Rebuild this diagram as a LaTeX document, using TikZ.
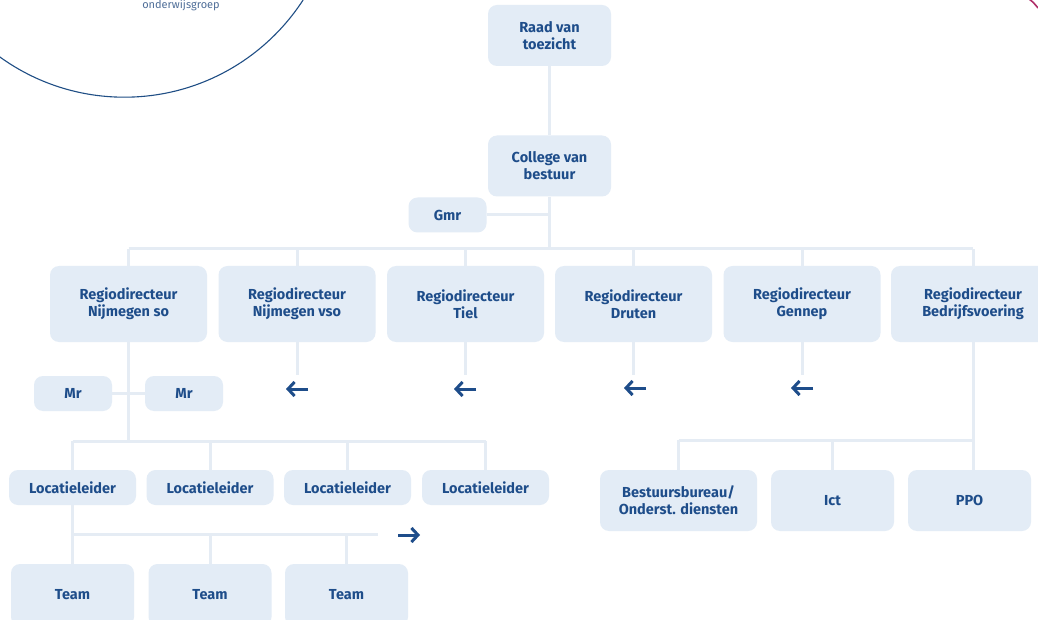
\documentclass[tikz,border=0pt]{standalone}
\usepackage{fontspec}
\setmainfont{Fira Sans}
\usetikzlibrary{arrows.meta,calc}
\definecolor{boxfill}{HTML}{E3ECF6}
\definecolor{txt}{HTML}{1E4D8A}
\definecolor{connc}{HTML}{E5ECF4}
\definecolor{logoc}{HTML}{1F4E85}
\definecolor{logotxt}{HTML}{4F6E98}
\definecolor{pinkc}{HTML}{B0306A}
\begin{document}
\begin{tikzpicture}[x=1pt,y=-1pt,
  box/.style={fill=boxfill, rounded corners=9pt, inner sep=0pt, align=center,
    font=\bfseries\fontsize{14.5}{17}\selectfont, text=txt},
  big/.style={box, minimum width=157pt, minimum height=76pt},
  mid/.style={box, minimum width=123pt, minimum height=61pt},
  small/.style={box, minimum width=78pt, minimum height=35pt},
  loc/.style={box, minimum width=127pt, minimum height=35pt},
  conn/.style={draw=connc, line width=3pt},
  arr/.style={draw=txt, line width=3pt, -{Straight Barb[length=6.5pt,width=14pt]}}]
\useasboundingbox (0,0) rectangle (1038,620);
\fill[white] (0,0) rectangle (1038,620);

% logo remnants
\draw[logoc, line width=1.1pt] (124.4,-115.6) circle[radius=212.8pt];
\node[text=logotxt, font=\fontsize{11}{13}\selectfont, inner sep=0pt, anchor=base] (logotext) at (181,8.5) {onderwijsgroep};
\draw[pinkc, line width=1.6pt] (1029,-1) .. controls (1033,2) .. (1038,8);

% top
\node[mid] (rvt) at (549.5,35.5) {Raad van\\toezicht};
\node[mid] (cvb) at (549.5,166) {College van\\bestuur};
\node[small] (gmr) at (447.5,215) {Gmr};
\coordinate (hub) at (549.5,249);

% regio row
\node[big] (rd1) at (128.5,304) {Regiodirecteur\\Nijmegen so};
\node[big] (rd2) at (297,304) {Regiodirecteur\\Nijmegen vso};
\node[big] (rd3) at (465.5,304) {Regiodirecteur\\Tiel};
\node[big] (rd4) at (633.5,304) {Regiodirecteur\\Druten};
\node[big] (rd5) at (802,304) {Regiodirecteur\\Gennep};
\node[big, minimum width=164pt] (rd6) at (973,304) {Regiodirecteur\\Bedrijfsvoering};

% arrows below regio
\coordinate (e2) at (297,375);
\coordinate (e3) at (465.5,375);
\coordinate (e4) at (633.5,375);
\coordinate (e5) at (802,375);
\coordinate (a2r) at (308,389); \coordinate (a2l) at (286,389);
\coordinate (a3r) at (476,389); \coordinate (a3l) at (454,389);
\coordinate (a4r) at (646,388); \coordinate (a4l) at (624,388);
\coordinate (a5r) at (813,388); \coordinate (a5l) at (791,388);

% Mr
\node[small] (mr1) at (73,393.5) {Mr};
\node[small] (mr2) at (184,393.5) {Mr};
\coordinate (lj) at (128.5,441);

% Locatieleiders
\node[loc] (ll1) at (72.5,487.5) {Locatieleider};
\node[loc] (ll2) at (210,487.5) {Locatieleider};
\node[loc] (ll3) at (347.5,487.5) {Locatieleider};
\node[loc] (ll4) at (485.5,487.5) {Locatieleider};
\coordinate (tj) at (72.5,534);
\coordinate (tend) at (378,534);
\coordinate (trr) at (420,535); \coordinate (trl) at (398,535);

% Teams
\node[box, minimum width=123pt, minimum height=62pt] (t1) at (72.5,595) {Team};
\node[box, minimum width=123pt, minimum height=62pt] (t2) at (210,595) {Team};
\node[box, minimum width=123pt, minimum height=62pt] (t3) at (346.5,595) {Team};

% right group
\node[box, minimum width=157pt, minimum height=61pt] (bb) at (678.5,500.5) {Bestuursbureau/\\Onderst. diensten};
\node[mid] (ict) at (832.5,500.5) {Ict};
\node[mid] (ppo) at (969.5,500.5) {PPO};
\coordinate (rj) at (972,440);

% connectors
\draw[conn] (rvt.south) -- (cvb.north);
\draw[conn] (cvb.south) -- (hub);
\draw[conn] (gmr.east) -- (gmr.east -| hub);
\draw[conn] (rd1.north |- hub) -- (rd6.north |- hub);
\foreach \n in {rd1,rd2,rd3,rd4,rd5,rd6} \draw[conn] (\n.north) -- (\n.north |- hub);
\draw[conn] (rd2.south) -- (e2);
\draw[conn] (rd3.south) -- (e3);
\draw[conn] (rd4.south) -- (e4);
\draw[conn] (rd5.south) -- (e5);
\draw[arr] (a2r) -- (a2l);
\draw[arr] (a3r) -- (a3l);
\draw[arr] (a4r) -- (a4l);
\draw[arr] (a5r) -- (a5l);
\draw[conn] (mr1.east) -- (mr2.west);
\draw[conn] (rd1.south) -- (lj);
\draw[conn] (ll1.north |- lj) -- (ll4.north |- lj);
\foreach \n in {ll1,ll2,ll3,ll4} \draw[conn] (\n.north) -- (\n.north |- lj);
\draw[conn] (ll1.south) -- (tj);
\draw[conn] (tj) -- (tend);
\foreach \n in {t1,t2,t3} \draw[conn] (\n.north) -- (\n.north |- tj);
\draw[arr] (trl) -- (trr);
\draw[conn] (rd6.south) -- (rd6.south |- ppo.north);
\draw[conn] (bb.north |- rj) -- (rd6.south |- rj);
\foreach \n in {bb,ict} \draw[conn] (\n.north) -- (\n.north |- rj);
\end{tikzpicture}
\end{document}
